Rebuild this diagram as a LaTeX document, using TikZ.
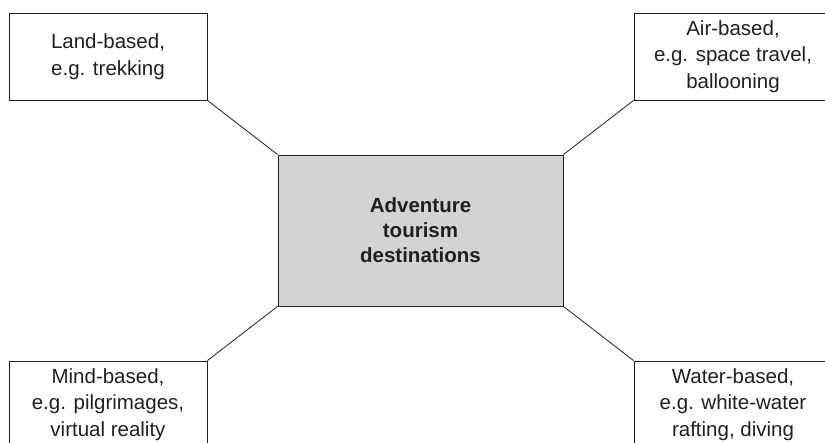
\documentclass[tikz,border=0pt]{standalone}
\usepackage{fontspec}
\setmainfont{Liberation Sans}
\usepackage{tikz}

\definecolor{hubgray}{RGB}{211,211,213}
\definecolor{inkgray}{RGB}{35,31,32}

\tikzset{
    leaf/.style = {draw=inkgray, line width=0.8pt, fill=white, align=center,
        text=inkgray, minimum width=198pt, minimum height=87pt, inner sep=0pt,
        font=\fontsize{20.5}{26.5}\selectfont},
    hub/.style = {draw=inkgray, line width=0.8pt, fill=hubgray, align=center,
        text=inkgray, minimum width=285pt, minimum height=151pt, inner sep=0pt,
        font=\fontsize{20.5}{25}\selectfont\bfseries},
    link/.style = {draw=inkgray, line width=0.8pt}
}

\begin{document}
\begin{tikzpicture}[x=1pt, y=1pt]
    \useasboundingbox (0, 0) rectangle (825, 443);
    \clip (0, 0) rectangle (825, 443);

    \node[hub] (hub) at (420.5, 212.5) {Adventure\\tourism\\destinations};

    \node[leaf] (land) at (108, 386.5) {Land-based,\\e.g. trekking};
    \node[leaf] (air) at (733, 386.5) {Air-based,\\e.g. space travel,\\ballooning};
    \node[leaf] (mind) at (108, 38.5) {Mind-based,\\e.g. pilgrimages,\\virtual reality};
    \node[leaf] (water) at (733, 38.5) {Water-based,\\e.g. white-water\\rafting, diving};

    \draw[link]
        (hub.north west) -- (land.south east)
        (hub.north east) -- (air.south west)
        (hub.south west) -- (mind.north east)
        (hub.south east) -- (water.north west);
\end{tikzpicture}
\end{document}
